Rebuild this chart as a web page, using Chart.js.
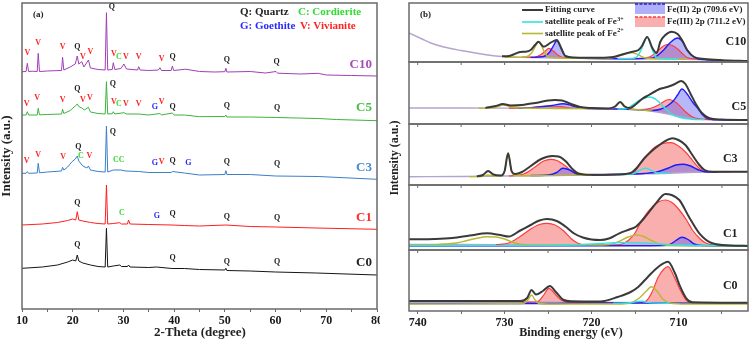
<!DOCTYPE html>
<html>
<head>
<meta charset="utf-8">
<script src="https://cdn.jsdelivr.net/npm/chart.js@4"></script>
<style>
  body { margin: 0; background: #fff; }
  #wrap { position: relative; width: 750px; height: 341px; overflow: hidden; }
  #xrd { position: absolute; left: 0; top: 0; }
  #xps { position: absolute; left: 380px; top: 0; }
</style>
</head>
<body>
<div id="wrap">
  <canvas id="xrd" width="380" height="341"></canvas>
  <canvas id="xps" width="370" height="341"></canvas>
</div>
<script>
/* ───────────── (a) XRD : [2-theta, intensity a.u.] ───────────── */
const xrdC10 = [[10,237.3],[10.8,237.5],[11.05,245.7],[11.3,237.5],[12,237.8],[13.0,237.5],[13.2,255.7],[13.45,237.5],[15,238],[16.5,238.3],[17.8,238.5],[18.0,251.7],[18.25,239],[19.5,242],[20.5,245],[20.9,253],[21.2,245],[21.8,247.3],[22.2,242],[23.1,249],[23.5,241],[25,239.5],[26.4,239],[26.65,296.3],[26.9,239],[27.8,239.5],[28.0,246.3],[28.3,239.5],[29.5,240.5],[30.1,245],[30.6,240],[32.8,239],[33.0,242.3],[33.3,239],[35,238.5],[36.9,239],[37.2,241.3],[37.5,238.5],[39.4,238.5],[39.65,243],[39.9,238.5],[42.3,239.8],[45,237.5],[48,237],[50.0,237.3],[50.2,240.7],[50.4,237],[55,237.5],[58,236],[60.1,237.5],[60.4,235.8],[65,235],[68.4,235.7],[70,234],[75,233.5],[80,233]];
const xrdC5  = [[10,194],[10.8,194],[11.05,197.3],[11.3,194],[13.0,194],[13.2,200.7],[13.45,194.2],[15,194.5],[17.8,195],[18.0,199.7],[18.25,195.5],[19.5,198.5],[20.5,203],[20.9,205],[21.3,202],[21.8,201],[22.3,199],[23.1,201.7],[23.5,197],[25,195.5],[26.4,195],[26.65,227.3],[26.9,195],[27.8,195.3],[28.0,197.3],[28.3,195],[30.1,196.3],[30.6,195],[33,195],[35,194],[37.2,195.5],[37.5,194],[39.65,196],[40,194],[42,194],[45,192.3],[50.0,192.5],[50.2,194],[50.4,192],[55,192],[60.2,191.5],[68.4,190.5],[72,189.5],[80,188.3]];
const xrdC3  = [[10,135.7],[10.8,135.7],[11.05,137.3],[11.3,135.7],[13.0,136],[13.2,145.7],[13.45,136.2],[15,137],[17.8,138],[18.0,141.7],[18.25,139],[19,142],[19.8,147],[20.5,150],[20.9,153],[21.2,148],[21.5,146],[22,143],[22.8,141],[23.1,143],[23.5,139],[25,137.5],[26.4,137],[26.65,183],[26.9,137],[28.0,139],[29.5,139],[30.5,138],[33,137.5],[35,136.5],[39.4,136.5],[39.65,137.5],[42,136],[45,134],[50.0,134.5],[50.2,138.3],[50.4,134.5],[55,134.5],[60,133],[68.4,132.5],[80,129.7]];
const xrdC1  = [[10,84],[14,85],[17,86.5],[19,88.5],[20,90],[20.6,89],[20.9,97.3],[21.2,89],[22,88],[23.5,86.5],[25,85.5],[26.4,85],[26.65,124],[26.9,85],[28,85.5],[29.3,86.3],[29.6,85],[30.8,85],[31.0,89],[31.3,85],[35,84.5],[39.6,84],[42,83.5],[45,83],[50.2,84],[55,82.5],[60.2,82],[68,81],[80,79.7]];
const xrdC0  = [[10,40.7],[14,42],[17,44],[19,47],[20,49],[20.6,48],[20.9,54],[21.2,48],[22,46],[23.5,44],[25,42.5],[26.4,42],[26.65,80.7],[26.9,42],[28,43],[29.3,44],[29.6,42.5],[30.8,42.5],[31.0,44],[31.3,42],[35,41.5],[36.5,42],[39.6,40.5],[42,40.5],[45,39.5],[50.0,39],[50.2,40.7],[50.4,38.5],[55,38],[60,37],[68,36],[80,34]];

// phase marks : [2-theta, a.u., text]
const marksA = [
  [11.05,255.7,'V'],[13.2,265.7,'V'],[18.0,261.7,'V'],[20.9,262.3,'Q'],[22.0,252.3,'V'],[23.5,256.7,'V'],[27.7,301.7,'Q'],[28.1,255,'V'],[29.1,252.3,'C'],[30.5,252.3,'V'],[33.0,252.3,'V'],[37.55,250,'V'],[39.7,251.7,'Q'],[50.4,249,'Q'],[60.2,247.3,'Q'],
  [10.9,205,'V'],[13.0,210.7,'V'],[18.0,209,'V'],[20.9,219.7,'Q'],[22.0,209,'V'],[23.4,210.7,'V'],[27.9,225,'Q'],[28.1,207.3,'V'],[29.1,205,'C'],[30.5,205,'V'],[33.0,205,'V'],[36.2,201.7,'G'],[37.55,207.3,'V'],[39.7,202.3,'Q'],[50.4,203,'Q'],[60.3,200.7,'Q'],
  [10.9,148.3,'V'],[13.2,154,'V'],[18.1,151.7,'V'],[21.1,162.3,'Q'],[21.6,153,'C'],[23.3,153,'V'],[27.9,176.7,'Q'],[29.1,149,'CC'],[36.2,146.3,'G'],[37.55,147.3,'V'],[39.7,148,'Q'],[42.8,145.7,'G'],[50.4,147.3,'Q'],[60.3,145,'Q'],
  [20.9,106.3,'Q'],[29.7,95.7,'C'],[36.6,93.3,'G'],[39.7,95,'Q'],[50.4,92.3,'Q'],[60.3,90.7,'Q'],
  [20.9,64,'Q'],[39.7,50.7,'Q'],[50.4,47.3,'Q'],[60.3,47.3,'Q']
];
const samplesA = ['C10', 'C5', 'C3', 'C1', 'C0'];
const labelLevelA = [244, 201, 141, 91, 46];

/* ───────────── (b) XPS Fe 2p : [binding energy, a.u.] ───────────── */
const fitC10  = [[730.3,5.7],[729.5,6],[728.7,8.5],[728.2,10],[727.6,10.3],[727,12],[726.5,17],[726.1,20.3],[725.5,15.3],[724.7,19.3],[724.0,22],[723.5,14],[723.0,6],[722,4.5],[719,4.2],[717.5,5],[716.5,7.5],[715.4,10],[714.6,12],[714.2,16],[713.6,25],[713.0,14],[712.5,9],[712.1,20],[711.5,27],[710.8,30.3],[710.1,28],[709.6,22],[709.0,12],[708.2,5],[707,3],[705,1.8],[702,1]];
const bgC10   = [[741,29],[739.5,23],[738.5,19],[737,15],[735,11.5],[733,8.5],[731,6],[729,5],[727,4.5],[720,3.5],[715,3.2],[710,3],[707,2.3],[704,1.5],[702,1]];
const fe3C10  = [[728,4.8],[726.5,5],[725.8,7.5],[725.3,11],[724.9,13.7],[724.4,11],[723.8,6.5],[723.2,4.3],[721,3.7],[716,3.3],[714.5,3.6],[713.6,4.5],[713.2,5.5],[712.4,11],[711.8,15.5],[711.3,17.5],[710.7,16.5],[710.1,13],[709.5,8],[709,4.5],[708,3],[706,2.2]];
const fe2C10  = [[727,4.6],[725.5,5.5],[724.8,10],[724.4,16],[724.0,21.3],[723.6,16],[723.2,8],[722.8,4.5],[721,3.7],[716,3.3],[713.5,3.6],[712.5,6],[711.7,12],[711,19],[710.1,24],[709.5,20],[709,12],[708.5,7],[708,4],[707,2.4],[705,1.8]];
const sat3C10 = [[717,3.4],[715.2,3.8],[714.8,5],[714.3,12],[713.6,24.7],[713.0,12],[712.6,5],[712,3.5],[710,3.2]];
const sat2C10 = [[730,4.8],[728.2,4.6],[727.4,5.5],[726.9,9],[726.5,15],[726.1,20.3],[725.7,15],[725.3,8],[724.8,4.5],[722,3.8],[718.5,3.5],[717.5,4.5],[716.5,7],[715.5,9.5],[714.7,7.5],[713.8,4],[712,3.2],[709,3]];

const fitC5  = [[732.2,16.1],[731,18],[730.2,20],[729.3,18.5],[728,19],[726.5,21],[725,23.5],[724.2,24],[723.4,23.5],[722.5,20.5],[721.3,17],[720,16],[718,15.6],[717.3,17.5],[716.7,22],[716.2,17.5],[715.6,16],[715,19],[714.2,25],[713.4,29],[712.6,33],[712,35.5],[711.3,37],[710.4,40],[709.7,43],[709.2,40],[708.6,30],[708.0,20],[707.3,11],[706.5,6],[705,4.5],[702,4]];
const bgC5   = [[741,16],[735,16],[728,15.8],[720,15.5],[716,15],[714.5,14.2],[713,12.8],[711.5,10.5],[710,7.5],[708.5,5.5],[706.5,4.5],[702,4]];
const fe3C5  = [[729.5,15.8],[727.5,16.4],[725.7,17.6],[724.7,18],[723.5,17.3],[722.3,16],[721,15.5],[716,15],[714.5,14.5],[713.3,15.5],[712.3,19],[711.1,24.5],[710.2,21],[709.3,13],[708.5,7.5],[707.5,5],[706,4.3]];
const fe2C5  = [[728.5,15.8],[726.5,16.6],[724.5,18.5],[723.3,20.3],[722.3,18.5],[721.3,16],[720,15.5],[714.5,14.2],[713,13.5],[712,15],[711.3,18],[710.6,23],[710.1,29],[709.6,35],[709.0,30],[708.3,21],[707.8,16],[707.2,9],[706.7,5.7],[705.5,4.2],[703,4]];
const sat3C5 = [[717,15],[716,15.2],[715.3,19],[714.3,24.5],[713.3,27],[712.5,24],[711.7,17],[710.8,10],[709.8,6.5],[708.5,4.8],[707,4.2]];
const sat2C5 = [[733,15.7],[731.2,16.5],[730.1,19],[729.2,17],[728,16],[720,15.5],[718,15.3],[717.3,17],[716.7,22],[716.2,18],[715.6,15],[714.5,14.2],[713,13]];

const fitC3  = [[733.2,8.6],[732.5,10],[731.9,14],[731.3,10.5],[730.4,9.5],[730,14],[729.6,31.7],[729.2,14],[728.8,11],[728,13],[727,19],[725.8,26],[724.5,29],[723.8,28.5],[723,24],[722.2,16],[721.5,11.5],[720,10.2],[717,10.5],[715.5,12],[714.8,17],[714,26],[713.2,33],[712.2,40],[711.3,45],[710.7,46.7],[710,45],[709.2,40],[708.4,30],[707.6,20],[707,15],[706,13.3],[702,13.3]];
const bgC3   = [[741,8.3],[735,8.5],[730,9],[725,9.5],[720,10],[715,11],[712,11.5],[709,12.5],[706,13],[702,13.3]];
const fe3C3  = [[729.5,9],[727.8,11],[726.5,18],[725.5,24],[724.7,25.7],[724,24.5],[723,19],[722.2,13],[721.5,10.3],[720,10],[717,10.5],[716,10.8],[715.2,12],[714.3,23],[713.5,31],[712.7,38],[711.8,41.5],[710.9,42.3],[710,39],[709.2,33],[708.6,27],[708.1,21.5],[707.5,16],[707,13.6],[706,13],[704,13.2]];
const fe2C3  = [[727,9.5],[725,10],[724,12.5],[723.3,16.7],[722.5,15],[721.7,11],[721,10],[716,10.8],[714,11.5],[712.5,13],[711.3,16.5],[710.3,20],[709.4,20.7],[708.6,19],[707.8,15.5],[707,13.3],[705.5,13]];
const sat3C3 = [[717,10.5],[715.2,11.3],[714.5,14.5],[713.8,16.7],[713.1,14.5],[712.4,12],[711,11.6]];
const sat2C3 = [[734,8.3],[732.5,8.8],[731.9,10],[731.3,9],[730.4,9.3],[730,14],[729.6,31.7],[729.2,14],[728.8,9.5],[727,9.3],[720,9.8]];

const fitC1  = [[741,10.7],[738,11],[736,12],[734,14.5],[732,16.7],[730.5,15],[729.5,13.5],[728.3,19],[727,25],[726,29.5],[725.1,31],[724,29],[723,23.5],[722,16.5],[721,12.5],[720,10.5],[719,10],[718,11.5],[716.8,16.7],[715.5,21],[714.9,23.3],[713.8,33.3],[712.6,46.7],[711.5,56],[710.8,55],[709.9,50],[708.8,33.3],[707.6,16.7],[706.1,6.7],[704,4.5],[702,4]];
const bgC1   = [[741,5.5],[735,5.5],[729,5.3],[722,5],[717,5],[712,4.5],[707,4.2],[702,4]];
const fe3C1  = [[731,5.4],[729.5,7],[728.3,13],[727,21],[726,25.5],[725.1,26.7],[724.2,25],[723.2,19],[722.3,11],[721.5,6.5],[720.5,5.2],[717.5,5],[716.5,6],[715.7,10],[715,17],[714.2,30],[713,43.3],[712.2,48.5],[711.5,50],[710.6,46.5],[709.9,40],[709,29],[708.4,20],[707.5,11],[706.8,6.7],[705.5,4.5],[703,4]];
const fe2C1  = [[741,4],[715,4.2],[712,4.4],[711,5.5],[710.3,9.5],[709.6,12.7],[708.9,10.5],[708.2,6],[707.3,4.5],[702,4]];
const sat3C1 = [[741,4.3],[730,4.4],[725,4.6],[721,5.5],[719,6.5],[716.5,7.5],[714,7],[712,6],[710,5],[706,4.5],[702,4.5]];
const sat2C1 = [[741,5],[738,5.3],[736.5,6.3],[735.5,7],[734.5,9],[733.3,11.5],[732,13.3],[731,13],[730,11],[729,7.5],[728,5.5],[726,5],[720,5],[718,5.5],[717,8],[715.8,13],[714.9,15],[714,13.5],[713,9],[712,5.5],[710,4.5],[706,4.2],[702,4]];

const fitC0  = [[741,10],[730,10],[728.2,10],[727.4,13],[726.9,21],[726.4,16.5],[725.6,20],[724.8,25],[724.1,19],[723.2,11],[722.3,9.7],[719,9.5],[716.9,14.3],[715.5,19],[714.6,24.3],[713.5,34.3],[712.3,44.3],[711.2,49.3],[710.4,37.7],[709.8,24.3],[709.1,12.7],[708.4,8.8],[702,8.3]];
const bgC0   = [[741,9.3],[730,9],[720,8.6],[710,8.3],[702,8.3]];
const fe3C0  = [[728,8.8],[726.5,9],[726,10.5],[725.5,16],[724.9,22.7],[724.2,17],[723.5,11],[722.5,8.7],[720,8.6],[715,8.4],[714.2,8.5],[713.7,10],[713.1,17.7],[712.3,34.3],[711.2,44.3],[710.5,34.3],[709.8,21],[708.9,9.3],[708,8.3],[706,8.3]];
const fe2C0  = [[741,7.5],[725,7.5],[720,8],[715,8],[710,7.7],[702,7.7]];
const sat3C0 = [[717.5,7.8],[715.5,8.3],[714.8,9.5],[714.2,9.8],[713.6,8.6],[712.5,7.9],[711,7.8]];
const sat2C0 = [[741,7],[730,7.2],[727.9,7.5],[727.3,11],[726.9,16],[726.5,11],[726,7.5],[725,7],[717,7],[715.6,8],[714.5,13],[713.8,19],[713.1,24.3],[712.4,19],[711.8,12],[711,8],[709,7],[702,7]];

/* ─────────────────── estilo ─────────────────── */
const serif = '"Liberation Serif", "Times New Roman", serif';
const frameColor = '#6a6a6a';
const phaseColor = { Q: '#222222', C: '#2fdc2f', G: '#2a2aff', V: '#ff2424' };
const traceColor = { C10: '#a03fb4', C5: '#3cb43c', C3: '#3a7fc8', C1: '#ff1e1e', C0: '#151515' };
const tagColor   = { C10: '#a64cba', C5: '#46c046', C3: '#4a8acd', C1: '#ff2a2a', C0: '#222222' };

function tickFont(size) {
  return { family: serif, weight: 'bold', size: size };
}

/* ─────────────────── (a) ─────────────────── */
const drawA = {
  id: 'drawA',
  afterDraw(chart) {
    const { ctx, chartArea: a, scales: { x, y } } = chart;
    ctx.save();
    ctx.strokeStyle = frameColor;
    ctx.lineWidth = 1.5;
    ctx.strokeRect(a.left, a.top, a.right - a.left, a.bottom - a.top);

    ctx.textAlign = 'center';
    ctx.textBaseline = 'middle';
    ctx.font = 'bold 8px ' + serif;
    marksA.forEach(([d, v, t]) => {
      ctx.fillStyle = phaseColor[t[0]];
      ctx.fillText(t, x.getPixelForValue(d), y.getPixelForValue(v));
    });

    ctx.font = 'bold 13px ' + serif;
    ctx.textAlign = 'right';
    samplesA.forEach((s, i) => {
      ctx.fillStyle = tagColor[s];
      ctx.fillText(s, x.getPixelForValue(79), y.getPixelForValue(labelLevelA[i]));
    });

    ctx.textAlign = 'left';
    ctx.font = 'bold 11px ' + serif;
    [['Q: Quartz', 'Q', 240, 12], ['C: Cordierite', 'C', 298, 12],
     ['G: Goethite', 'G', 240, 26], ['V: Vivianite', 'V', 300, 26]].forEach(([t, k, px, py]) => {
      ctx.fillStyle = phaseColor[k];
      ctx.fillText(t, px, py);
    });
    ctx.fillStyle = '#222';
    ctx.font = 'bold 9px ' + serif;
    ctx.fillText('(a)', 33, 15);

    ctx.textAlign = 'center';
    ctx.font = 'bold 13px ' + serif;
    ctx.fillText('2-Theta (degree)', 200, 333);
    ctx.translate(7, 156);
    ctx.rotate(-Math.PI / 2);
    ctx.fillText('Intensity (a.u.)', 0, 0);
    ctx.restore();
  }
};

new Chart(document.getElementById('xrd'), {
  type: 'line',
  data: {
    datasets: samplesA.map(s => ({
      data: { C10: xrdC10, C5: xrdC5, C3: xrdC3, C1: xrdC1, C0: xrdC0 }[s],
      borderColor: traceColor[s],
      borderWidth: 1,
      pointRadius: 0,
      tension: 0
    }))
  },
  options: {
    responsive: false,
    animation: false,
    events: [],
    layout: { padding: { top: 3, right: 3, left: 0, bottom: 0 } },
    plugins: { legend: { display: false }, tooltip: { enabled: false } },
    scales: {
      x: {
        type: 'linear', min: 10, max: 80,
        ticks: {
          stepSize: 5, autoSkip: false, maxRotation: 0, includeBounds: false,
          color: '#1a1a1a', font: tickFont(12), padding: 2,
          callback: v => (v % 10 === 0 ? v : '')
        },
        grid: { drawOnChartArea: false, tickLength: 3, color: frameColor },
        border: { display: false },
        afterFit(s) { s.height = 32; s.paddingLeft = 0; s.paddingRight = 0; }
      },
      y: {
        min: 0, max: 306,
        ticks: { display: false },
        grid: { display: false },
        border: { display: false },
        afterFit(s) { s.width = 22; }
      }
    }
  },
  plugins: [drawA]
});

/* ─────────────────── (b) ─────────────────── */
const panelsB = [
  { id: 'yC10', name: 'C10', h: 59, fit: fitC10, bg: bgC10, fe3: fe3C10, fe2: fe2C10, sat3: sat3C10, sat2: sat2C10, tag: [702.2, 19.7] },
  { id: 'yC5',  name: 'C5',  h: 62, fit: fitC5,  bg: bgC5,  fe3: fe3C5,  fe2: fe2C5,  sat3: sat3C5,  sat2: sat2C5,  tag: [702.2, 17.3] },
  { id: 'yC3',  name: 'C3',  h: 61, fit: fitC3,  bg: bgC3,  fe3: fe3C3,  fe2: fe2C3,  sat3: sat3C3,  sat2: sat2C3,  tag: [703.2, 25.7] },
  { id: 'yC1',  name: 'C1',  h: 65, fit: fitC1,  bg: bgC1,  fe3: fe3C1,  fe2: fe2C1,  sat3: sat3C1,  sat2: sat2C1,  tag: [703.2, 15.7] },
  { id: 'yC0',  name: 'C0',  h: 61, fit: fitC0,  bg: bgC0,  fe3: fe3C0,  fe2: fe2C0,  sat3: sat3C0,  sat2: sat2C0,  tag: [703.2, 25.3] }
];

const colFit = '#3a3a3a', colBg = '#b3a5cc', colFe3 = '#ff3c3c', colFe2 = '#1c1cff', colSat3 = '#33e3e3', colSat2 = '#b9b833';

function curve(data, axis, color, width, order) {
  return { data, yAxisID: axis, borderColor: color, borderWidth: width, pointRadius: 0,
           cubicInterpolationMode: 'monotone', order, fill: false };
}

const xpsSets = [];
panelsB.forEach(p => {
  const bgIdx = xpsSets.length;
  xpsSets.push(curve(p.bg, p.id, colBg, 1.4, 5));
  xpsSets.push({ ...curve(p.fe3, p.id, colFe3, 1.2, 4),
    fill: { target: bgIdx, above: 'rgba(245,95,95,0.5)', below: 'rgba(0,0,0,0)' } });
  xpsSets.push({ ...curve(p.fe2, p.id, colFe2, 1.4, 3),
    fill: { target: bgIdx, above: 'rgba(95,95,245,0.45)', below: 'rgba(0,0,0,0)' } });
  xpsSets.push(curve(p.sat3, p.id, colSat3, 1.4, 2));
  xpsSets.push(curve(p.sat2, p.id, colSat2, 1.4, 2));
  xpsSets.push(curve(p.fit, p.id, colFit, 2, 0));
});

const xpsScales = {
  x: {
    type: 'linear', reverse: true, min: 702, max: 741,
    ticks: {
      stepSize: 5, autoSkip: false, maxRotation: 0, includeBounds: false,
      color: '#1a1a1a', font: tickFont(12), padding: 2,
      callback: v => (v % 10 === 0 ? v : '')
    },
    grid: { drawOnChartArea: false, tickLength: 3, color: frameColor },
    border: { display: false },
    afterFit(s) { s.height = 30; s.paddingLeft = 0; s.paddingRight = 0; }
  }
};
// los ejes apilados se colocan en orden inverso: el último declarado queda arriba
panelsB.slice().reverse().forEach(p => {
  xpsScales[p.id] = {
    type: 'linear', position: 'left', stack: 'xps', stackWeight: p.h,
    min: 0, max: p.h, offset: false,
    ticks: { display: false },
    grid: { display: false },
    border: { display: false },
    afterFit(s) { s.width = 29; }
  };
});

const drawB = {
  id: 'drawB',
  afterDraw(chart) {
    const { ctx, chartArea: a, scales } = chart;
    const x = scales.x;
    ctx.save();
    ctx.strokeStyle = frameColor;
    ctx.lineWidth = 1.5;
    panelsB.forEach((p, i) => {
      const s = scales[p.id];
      ctx.strokeRect(a.left, s.top, a.right - a.left, s.bottom - s.top);
      if (i < panelsB.length - 1) {
        ctx.lineWidth = 1;
        for (let e = 705; e <= 740; e += 5) {
          const px = x.getPixelForValue(e);
          ctx.beginPath();
          ctx.moveTo(px, s.bottom);
          ctx.lineTo(px, s.bottom + 3);
          ctx.stroke();
        }
        ctx.lineWidth = 1.5;
      }
      ctx.fillStyle = '#222';
      ctx.font = 'bold 12px ' + serif;
      ctx.textAlign = 'right';
      ctx.textBaseline = 'middle';
      ctx.fillText(p.name, x.getPixelForValue(p.tag[0]), s.getPixelForValue(p.tag[1]));
    });

    // leyenda
    ctx.textAlign = 'left';
    ctx.font = 'bold 9px ' + serif;
    [['Fitting curve', colFit, 2, '', 10], ['satellite peak of Fe', colSat3, 1.6, '3+', 22],
     ['satellite peak of Fe', colSat2, 1.6, '2+', 33.5]].forEach(([t, c, w, sup, py]) => {
      ctx.strokeStyle = c;
      ctx.lineWidth = w;
      ctx.beginPath();
      ctx.moveTo(142, py);
      ctx.lineTo(163, py);
      ctx.stroke();
      ctx.fillStyle = '#222';
      ctx.font = 'bold 9px ' + serif;
      ctx.fillText(t, 165, py);
      if (sup) {
        const w2 = ctx.measureText(t).width;
        ctx.font = 'bold 6px ' + serif;
        ctx.fillText(sup, 165 + w2 + 0.5, py - 3);
      }
    });
    [['Fe(II) 2p (709.6 eV)', 'rgba(95,95,245,0.5)', colFe2, 4, 9.5],
     ['Fe(III) 2p (711.2 eV)', 'rgba(245,95,95,0.5)', colFe3, 17, 22]].forEach(([t, f, c, top, py]) => {
      ctx.fillStyle = f;
      ctx.fillRect(255, top, 30, 10);
      ctx.strokeStyle = c;
      ctx.lineWidth = 1.5;
      ctx.setLineDash([3, 1.5]);
      ctx.beginPath();
      ctx.moveTo(255, top);
      ctx.lineTo(285, top);
      ctx.stroke();
      ctx.setLineDash([]);
      ctx.fillStyle = '#222';
      ctx.font = 'bold 9px ' + serif;
      ctx.fillText(t, 287, py);
    });
    ctx.font = 'bold 9px ' + serif;
    ctx.fillText('(b)', 40, 15);

    ctx.textAlign = 'center';
    ctx.font = 'bold 12px ' + serif;
    ctx.fillText('Binding energy (eV)', 191, 333);
    ctx.translate(15, 158);
    ctx.rotate(-Math.PI / 2);
    ctx.fillText('Intensity (a.u.)', 0, 0);
    ctx.restore();
  }
};

new Chart(document.getElementById('xps'), {
  type: 'line',
  data: { datasets: xpsSets },
  options: {
    responsive: false,
    animation: false,
    events: [],
    layout: { padding: { top: 3, right: 2, left: 0, bottom: 0 } },
    plugins: { legend: { display: false }, tooltip: { enabled: false }, filler: { drawTime: 'beforeDatasetsDraw' } },
    scales: xpsScales
  },
  plugins: [drawB]
});
</script>
</body>
</html>
